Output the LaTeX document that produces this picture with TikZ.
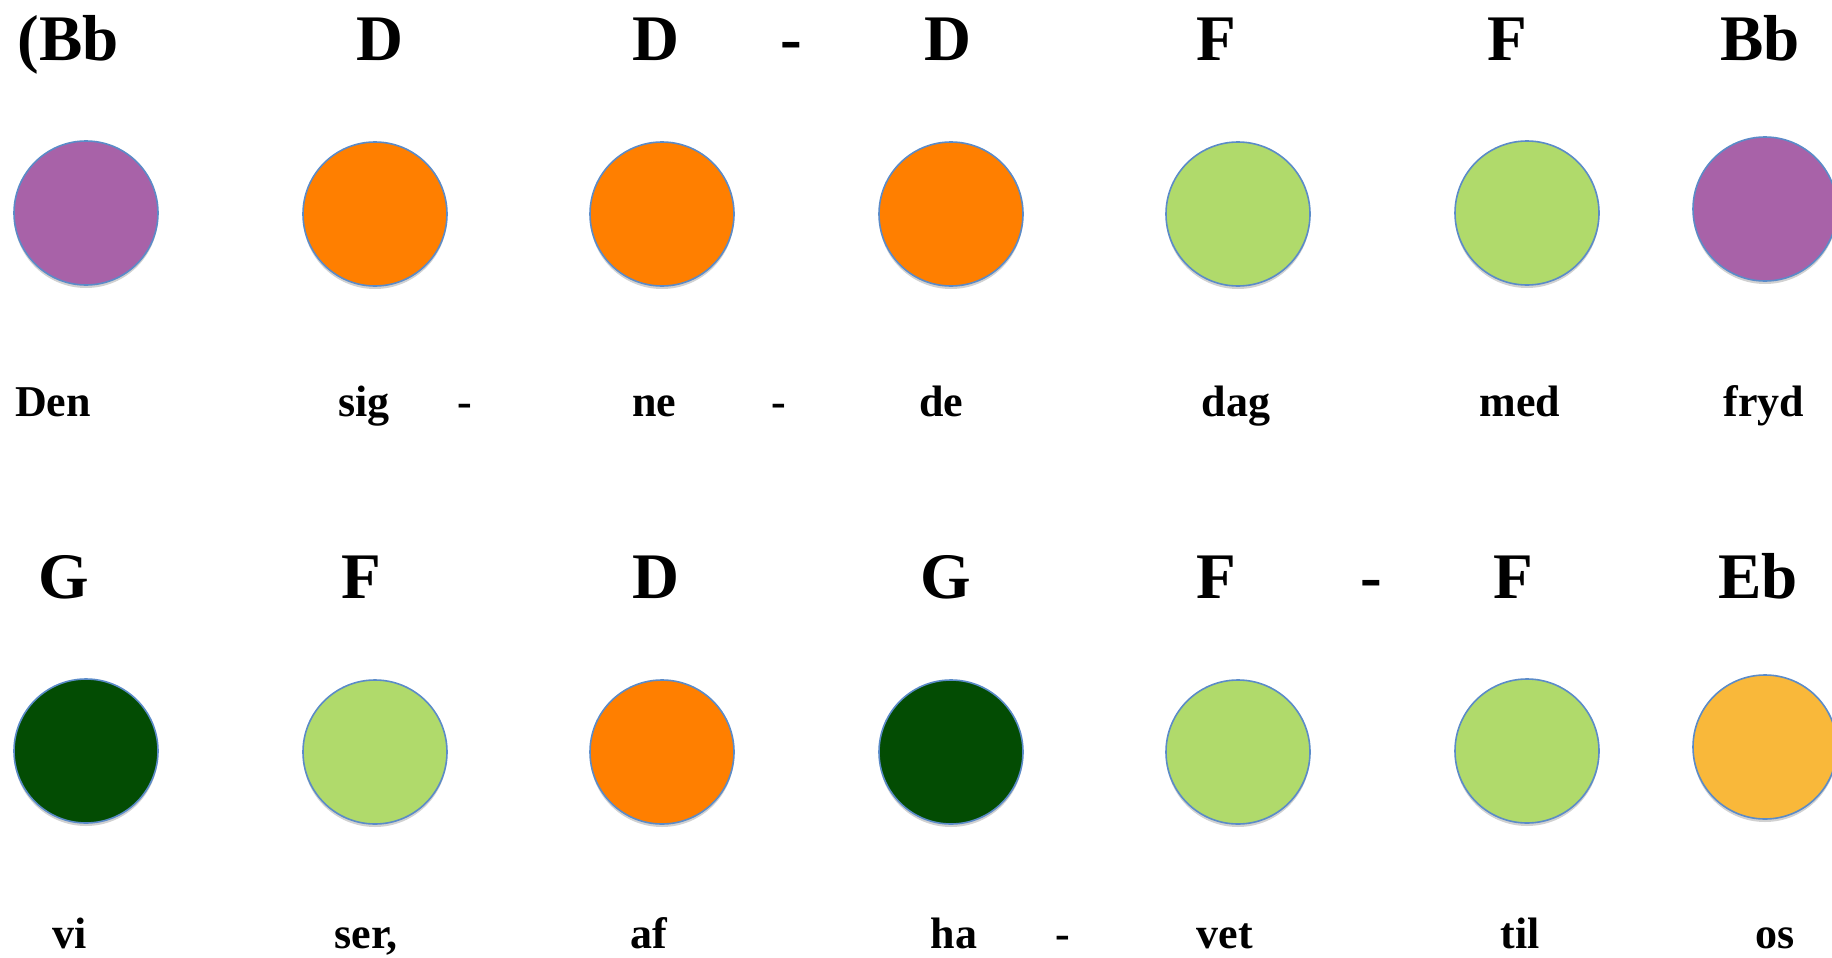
\documentclass[tikz,border=0pt]{standalone}
\usepackage{fontspec}
\setmainfont{Liberation Serif}
\usetikzlibrary{shadows}
\definecolor{cpurple}{HTML}{A862A8}
\definecolor{corange}{HTML}{FF7F00}
\definecolor{clgreen}{HTML}{B0DA6B}
\definecolor{cdgreen}{HTML}{034C03}
\definecolor{cyellow}{HTML}{F9B83A}
\definecolor{cedge}{HTML}{5B8BC8}
\tikzset{
  dot/.style={circle, minimum size=144pt, inner sep=0pt, draw=cedge, line width=1.6pt,
    drop shadow={shadow xshift=0pt, shadow yshift=-3pt, opacity=0.18, fill=black}},
  chord/.style={anchor=base, inner sep=0pt, font=\fontsize{65}{70}\selectfont\bfseries},
  lyric/.style={anchor=base, inner sep=0pt, font=\fontsize{44}{48}\selectfont\bfseries},
}
\begin{document}
\begin{tikzpicture}[x=1pt, y=-1pt]
\useasboundingbox (0,0) rectangle (1832,958);
\clip (0,0) rectangle (1832,958);
% row 1 chords
\node[chord] (c1) at (68,61) {(Bb};
\node[chord] (c2) at (380,61) {D};
\node[chord] (c3) at (656,61) {D};
\node[chord] (c3h) at (791,61) {-};
\node[chord] (c4) at (948,61) {D};
\node[chord] (c5) at (1216,61) {F};
\node[chord] (c6) at (1507,61) {F};
\node[chord] (c7) at (1760,61) {Bb};
% row 1 circles
\node[dot, fill=cpurple] (d1) at (86,213) {};
\node[dot, fill=corange] (d2) at (375,214) {};
\node[dot, fill=corange] (d3) at (662,214) {};
\node[dot, fill=corange] (d4) at (951,214) {};
\node[dot, fill=clgreen] (d5) at (1238,214) {};
\node[dot, fill=clgreen] (d6) at (1527,213) {};
\node[dot, fill=cpurple] (d7) at (1765,209) {};
% row 1 lyrics
\node[lyric] (l1) at (53,416) {Den};
\node[lyric] (l2) at (364,416) {sig};
\node[lyric] (l2h) at (465,416) {-};
\node[lyric] (l3) at (654,416) {ne};
\node[lyric] (l3h) at (779,416) {-};
\node[lyric] (l4) at (941,416) {de};
\node[lyric] (l5) at (1236,416) {dag};
\node[lyric] (l6) at (1520,416) {med};
\node[lyric] (l7) at (1764,416) {fryd};
% row 2 chords
\node[chord] (e1) at (64,598) {G};
\node[chord] (e2) at (361,598) {F};
\node[chord] (e3) at (656,598) {D};
\node[chord] (e4) at (946,598) {G};
\node[chord] (e5) at (1216,598) {F};
\node[chord] (e5h) at (1371,598) {-};
\node[chord] (e6) at (1513,598) {F};
\node[chord] (e7) at (1758,598) {Eb};
% row 2 circles
\node[dot, fill=cdgreen] (f1) at (86,751) {};
\node[dot, fill=clgreen] (f2) at (375,752) {};
\node[dot, fill=corange] (f3) at (662,752) {};
\node[dot, fill=cdgreen] (f4) at (951,752) {};
\node[dot, fill=clgreen] (f5) at (1238,752) {};
\node[dot, fill=clgreen] (f6) at (1527,751) {};
\node[dot, fill=cyellow] (f7) at (1765,747) {};
% row 2 lyrics
\node[lyric] (m1) at (70,948) {vi};
\node[lyric] (m2) at (366,948) {ser,};
\node[lyric] (m3) at (649,948) {af};
\node[lyric] (m4) at (954,948) {ha};
\node[lyric] (m4h) at (1063,948) {-};
\node[lyric] (m5) at (1225,948) {vet};
\node[lyric] (m6) at (1520,948) {til};
\node[lyric] (m7) at (1775,948) {os};
\end{tikzpicture}
\end{document}
